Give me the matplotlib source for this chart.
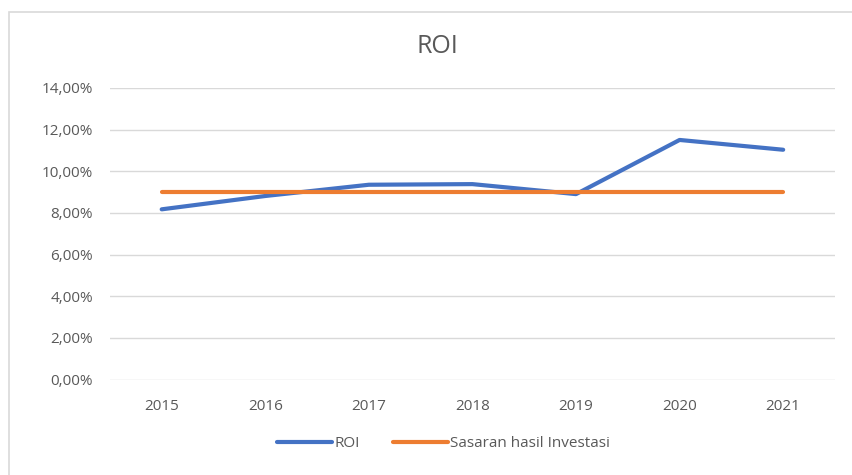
import matplotlib.pyplot as plt
from matplotlib.patches import Rectangle
from matplotlib.ticker import FuncFormatter

years = ['2015', '2016', '2017', '2018', '2019', '2020', '2021']
roi = [8.17, 8.81, 9.35, 9.38, 8.90, 11.50, 11.03]
target = [9.0, 9.0, 9.0, 9.0, 9.0, 9.0, 9.0]

plt.rcParams['font.family'] = ['Open Sans', 'DejaVu Sans']
grey = '#595959'

fig = plt.figure(figsize=(8.52, 4.75), dpi=100)
ax = fig.add_axes([0.129, 0.201, 0.851, 0.614])

x = range(len(years))
ax.plot(x, roi, color='#4472C4', lw=3.0, solid_capstyle='round', label='ROI')
ax.plot(x, target, color='#ED7D31', lw=3.0, solid_capstyle='round',
        label='Sasaran hasil Investasi')

ax.set_xlim(-0.5, len(years) - 0.5)
ax.set_ylim(0, 14)
ax.set_yticks(range(0, 15, 2))
ax.yaxis.set_major_formatter(FuncFormatter(lambda v, p: ('%.2f%%' % v).replace('.', ',')))
ax.set_xticks(list(x))
ax.set_xticklabels(years)
ax.tick_params(colors=grey, labelsize=11, length=0)
ax.tick_params(axis='x', pad=14)
ax.tick_params(axis='y', pad=12)
ax.grid(axis='y', color='#d9d9d9', lw=1)
ax.set_axisbelow(True)
for s in ax.spines.values():
    s.set_visible(False)

fig.text(0.513, 0.903, 'ROI', ha='center', va='center', fontsize=18, color=grey)
ax.legend(loc='center', bbox_to_anchor=(0.46, -0.221), ncol=2, frameon=False,
          fontsize=11, labelcolor=grey, handlelength=3.6, handletextpad=0.1,
          columnspacing=2.2)

fig.patches.append(Rectangle((0.011, -0.01), 1.0, 0.985, transform=fig.transFigure,
                             fill=False, edgecolor='#d9d9d9', lw=1.2))

fig.savefig('out.png', dpi=100)
